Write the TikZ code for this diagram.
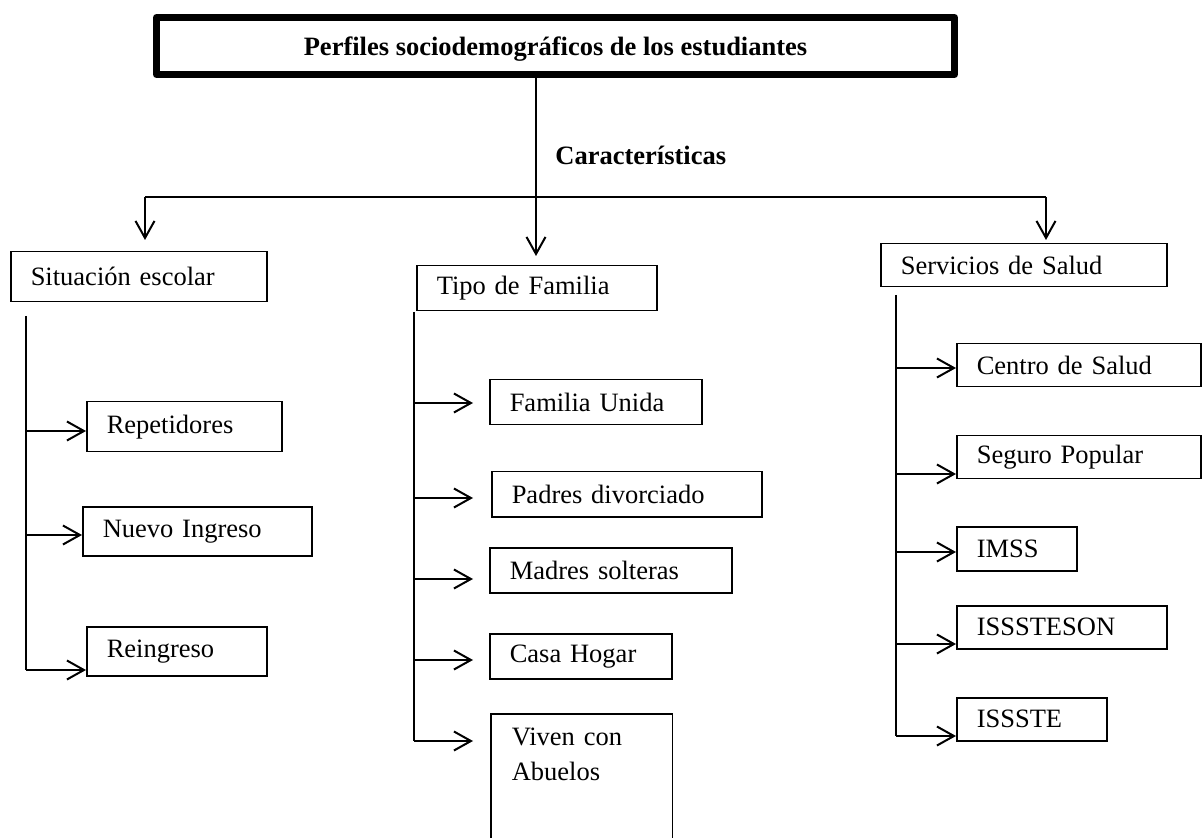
\documentclass[tikz,border=0pt]{standalone}
\usepackage{fontspec}
\setmainfont{Liberation Serif}
\usetikzlibrary{arrows.meta}

\tikzset{
  >={Straight Barb[length=8.5pt,width=9.5pt]},
  caja/.style={draw, line width=0.75pt, anchor=north west, inner xsep=10pt, inner ysep=0pt, align=left, font=\fontsize{13.25pt}{17.5pt}\selectfont},
  linea/.style={line width=1pt},
}

\begin{document}
\begin{tikzpicture}[x=0.5pt, y=-0.5pt]
\useasboundingbox (0,0) rectangle (1202,838);

\node[draw, line width=3.5pt, line join=round, minimum width=399pt, minimum height=28.5pt, inner sep=0pt, text depth=0pt, font=\bfseries\fontsize{13.25pt}{15pt}\selectfont] (perf) at (555.5,46) {Perfiles sociodemográficos de los estudiantes};
\node[anchor=base west, inner sep=0pt, font=\bfseries\fontsize{13.25pt}{15pt}\selectfont] (carac) at (555,165) {Características};

\node[caja, text width=108pt, minimum height=25pt] (sit) at (10,251) {Situación escolar};
\node[caja, text width=77.5pt, minimum height=25pt] (rep) at (86,401) {Repetidores};
\node[caja, text width=94.5pt, minimum height=24.5pt] (nuevo) at (82,506) {Nuevo Ingreso};
\node[caja, text width=70pt, minimum height=24.5pt] (rein) at (86,626) {Reingreso};

\node[caja, text width=100pt, minimum height=22.5pt] (tipo) at (416,265) {Tipo de Familia};
\node[caja, text width=86pt, minimum height=22.5pt] (unida) at (489,379) {Familia Unida};
\node[caja, text width=115pt, minimum height=22.5pt] (divor) at (491,471) {Padres divorciado};
\node[caja, text width=101pt, minimum height=22.5pt] (solt) at (489,547) {Madres solteras};
\node[caja, text width=71pt, minimum height=22.5pt] (hogar) at (489,633) {Casa Hogar};
\node[caja, draw=none, text width=70pt, inner ysep=6.5pt] (abue) at (491,714) {Viven con\\Abuelos};
\draw[line width=0.75pt] (abue.north west) rectangle ([yshift=-40pt]abue.south east);

\node[caja, text width=123pt, minimum height=21.5pt] (serv) at (880,243) {Servicios de Salud};
\node[caja, text width=102pt, minimum height=21.5pt] (centro) at (956,343) {Centro de Salud};
\node[caja, text width=102pt, minimum height=21.5pt] (seguro) at (956,435) {Seguro Popular};
\node[caja, text width=40pt, minimum height=22pt] (imss) at (956,526) {IMSS};
\node[caja, text width=85pt, minimum height=21.5pt] (isson) at (956,605) {ISSSTESON};
\node[caja, text width=55pt, minimum height=21.5pt] (issste) at (956,697) {ISSSTE};

\coordinate (m) at (536,197);
\coordinate (barL) at (145,197);
\coordinate (barR) at (1046,197);
\draw[linea, ->, shorten >=4.5pt] (perf.south -| m) -- (tipo.north -| m);
\draw[linea] (barL) -- (barR);
\draw[linea, ->, shorten >=5.5pt] (barL) -- (barL |- sit.north);
\draw[linea, ->, shorten >=1.5pt] (barR) -- (barR |- serv.north);

\coordinate (tA) at (26,316);
\coordinate (a1) at (26,431);
\coordinate (a2) at (26,535);
\coordinate (a3) at (26,670);
\draw[linea] (tA) -- (a3);
\draw[linea, ->] (a1) -- (a1 -| rep.west);
\draw[linea, ->] (a2) -- (a2 -| nuevo.west);
\draw[linea, ->] (a3) -- (a3 -| rein.west);

\coordinate (tB) at (414,312);
\coordinate (b1) at (414,403);
\coordinate (b2) at (414,498);
\coordinate (b3) at (414,579);
\coordinate (b4) at (414,660);
\coordinate (b5) at (414,741);
\draw[linea] (tB) -- (b5);
\draw[linea, ->, shorten >=8pt] (b1) -- (b1 -| unida.west);
\draw[linea, ->, shorten >=9pt] (b2) -- (b2 -| divor.west);
\draw[linea, ->, shorten >=8pt] (b3) -- (b3 -| solt.west);
\draw[linea, ->, shorten >=8pt] (b4) -- (b4 -| hogar.west);
\draw[linea, ->, shorten >=9pt] (b5) -- (b5 -| abue.west);

\coordinate (tC) at (896,295);
\coordinate (c1) at (896,368);
\coordinate (c2) at (896,474);
\coordinate (c3) at (896,552);
\coordinate (c4) at (896,644);
\coordinate (c5) at (896,736);
\draw[linea] (tC) -- (c5);
\draw[linea, ->] (c1) -- (c1 -| centro.west);
\draw[linea, ->] (c2) -- (c2 -| seguro.west);
\draw[linea, ->] (c3) -- (c3 -| imss.west);
\draw[linea, ->] (c4) -- (c4 -| isson.west);
\draw[linea, ->] (c5) -- (c5 -| issste.west);
\end{tikzpicture}
\end{document}
